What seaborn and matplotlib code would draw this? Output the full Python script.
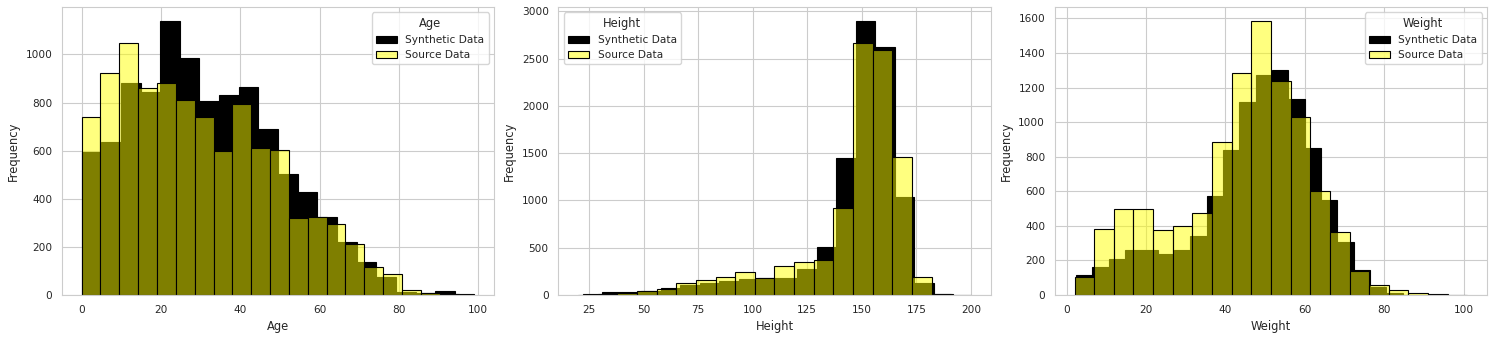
import numpy as np
import pandas as pd
import matplotlib
matplotlib.use("Agg")
import matplotlib.pyplot as plt
import seaborn as sns

# bin edges and counts
age_syn_edges = np.linspace(0, 99, 21)
age_syn_counts = [593, 635, 881, 845, 1140, 985, 806, 831, 864, 689,
                  505, 429, 324, 220, 136, 76, 14, 7, 17, 3]
age_src_edges = np.linspace(0, 95, 21)
age_src_counts = [742, 921, 1048, 859, 880, 811, 742, 598, 796, 611,
                  603, 320, 324, 295, 212, 117, 86, 19, 9, 3]

height_syn_edges = np.linspace(22.2, 191.8, 20)
height_syn_counts = [5, 32, 32, 42, 72, 106, 130, 148, 170, 177,
                     184, 275, 505, 1450, 2901, 2622, 1037, 127, 7]
height_src_edges = np.linspace(20, 200, 21)
height_src_counts = [3, 8, 18, 42, 60, 124, 155, 187, 240, 176,
                     311, 353, 365, 918, 2671, 2587, 1465, 187, 7, 1]

weight_syn_edges = np.linspace(2.35, 84.6, 21)
weight_syn_counts = [115, 163, 209, 261, 261, 238, 261, 342, 574, 841,
                     1119, 1273, 1299, 1136, 852, 551, 305, 145, 45, 14]
weight_src_edges = np.linspace(2.0, 100.9, 21)
weight_src_counts = [102, 381, 497, 497, 375, 396, 473, 885, 1285, 1586,
                     1239, 1030, 599, 363, 141, 60, 31, 10, 4, 1]

panels = [
    ("Age", age_syn_edges, age_syn_counts, age_src_edges, age_src_counts),
    ("Height", height_syn_edges, height_syn_counts, height_src_edges, height_src_counts),
    ("Weight", weight_syn_edges, weight_syn_counts, weight_src_edges, weight_src_counts),
]

sns.set_style("whitegrid")

fig, axes = plt.subplots(1, 3, figsize=(14.94, 3.39), dpi=100)
fig.subplots_adjust(left=0.0415, right=0.9953, top=0.979, bottom=0.130, wspace=0.149)

for ax, (name, s_edges, s_counts, r_edges, r_counts) in zip(axes, panels):
    syn = pd.DataFrame({"x": (s_edges[:-1] + s_edges[1:]) / 2, "n": s_counts})
    src = pd.DataFrame({"x": (r_edges[:-1] + r_edges[1:]) / 2, "n": r_counts})
    sns.histplot(data=syn, x="x", weights="n", bins=s_edges.tolist(), color="black",
                 edgecolor="black", alpha=1, linewidth=0.8,
                 label="Synthetic Data", ax=ax)
    sns.histplot(data=src, x="x", weights="n", bins=r_edges.tolist(), color="yellow",
                 edgecolor="black", alpha=0.5, linewidth=0.8,
                 label="Source Data", ax=ax)
    ax.set_xlabel(name, fontsize=8.3)
    ax.set_ylabel("Frequency", fontsize=8.3)
    ax.tick_params(labelsize=7.6)
    ax.legend(title=name, fontsize=7.6, title_fontsize=8.3)

fig.savefig("out.png", dpi=100)
